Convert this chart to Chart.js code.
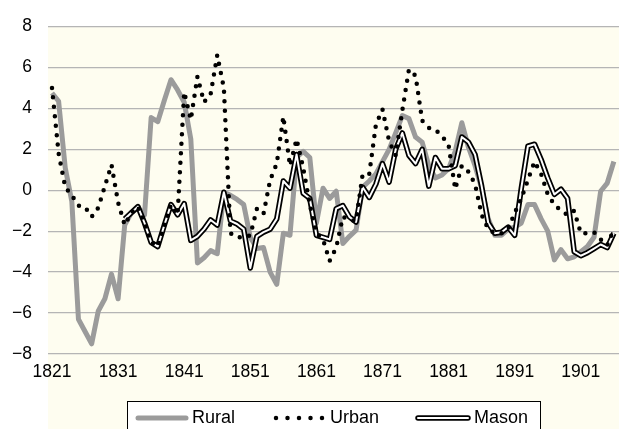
<!DOCTYPE html>
<html><head><meta charset="utf-8">
<script src="https://cdn.jsdelivr.net/npm/chart.js@4.4.1/dist/chart.umd.min.js"></script>
<style>html,body{margin:0;padding:0;background:#fff;}canvas{display:block;}</style>
</head><body>
<canvas id="c" width="619" height="429"></canvas>
<script>
const years = [1821,1822,1823,1824,1825,1826,1827,1828,1829,1830,
 1831,1832,1833,1834,1835,1836,1837,1838,1839,1840,
 1841,1842,1843,1844,1845,1846,1847,1848,1849,1850,
 1851,1852,1853,1854,1855,1856,1857,1858,1859,1860,
 1861,1862,1863,1864,1865,1866,1867,1868,1869,1870,
 1871,1872,1873,1874,1875,1876,1877,1878,1879,1880,
 1881,1882,1883,1884,1885,1886,1887,1888,1889,1890,
 1891,1892,1893,1894,1895,1896,1897,1898,1899,1900,
 1901,1902,1903,1904,1905,1906];
const rural = [4.75,4.35,1.1,-0.55,-6.3,-6.9,-7.5,-5.9,-5.3,-4.1,
 -5.3,-1.7,-1.1,-0.85,-1.2,3.55,3.35,4.4,5.4,4.9,
 4.3,2.5,-3.55,-3.3,-2.95,-3.1,-0.1,-0.25,-0.45,-0.7,
 -2.3,-2.85,-2.8,-4.0,-4.6,-2.1,-2.2,1.6,1.9,1.6,
 -1.6,0.1,-0.4,-0.05,-2.6,-2.25,-1.95,0.15,0.45,0.8,
 1.4,2.0,2.8,3.65,3.5,2.6,2.35,1.2,0.6,0.75,
 1.05,1.9,3.3,2.1,1.2,0.1,-1.4,-2.2,-2.2,-1.9,
 -1.8,-1.6,-0.7,-0.7,-1.4,-2.0,-3.4,-2.9,-3.35,-3.25,
 -3.0,-2.75,-2.3,-0.05,0.35,1.4];
const urban = [5.0,1.8,0.15,-0.25,-0.75,-0.82,-1.3,-0.85,0.2,1.25,
 -0.6,-1.7,-1.1,-0.8,-1.6,-2.55,-2.75,-1.7,-0.7,-1.2,
 4.8,3.45,5.55,4.3,4.7,6.6,5.0,-2.1,-2.3,-2.3,
 -2.2,-0.9,-1.15,0.5,1.3,3.6,1.2,2.5,1.1,-0.7,
 -2.1,-2.4,-3.45,-2.8,-1.3,-1.45,-1.5,0.8,0.8,3.2,
 3.95,2.4,1.7,3.9,5.9,5.6,3.4,3.05,2.95,2.65,
 2.2,0.05,1.2,0.9,0.3,-1.2,-1.9,-2.1,-2.1,-1.9,
 -1.1,-0.4,0.5,1.4,0.8,-0.2,-0.7,-1.0,-1.2,-1.0,
 -2.1,-2.1,-2.05,-2.4,-2.7,-1.9];
const mason = [null,null,null,null,null,null,null,null,null,null,
 null,-1.4,-1.1,-0.8,-1.6,-2.55,-2.75,-1.7,-0.7,-1.2,
 -0.65,-2.45,-2.25,-1.9,-1.45,-1.7,-0.1,-1.5,-1.65,-1.9,
 -3.8,-2.25,-2.05,-1.9,-1.4,0.45,0.1,1.75,-0.15,-0.4,
 -2.2,-2.3,-2.4,-0.9,-0.75,-1.3,-1.55,0.15,-0.35,0.3,
 1.3,0.4,2.0,2.8,1.7,1.3,2.0,0.2,1.6,1.05,
 1.05,1.2,2.6,2.35,1.75,0.2,-1.6,-2.1,-2.05,-1.8,
 -2.2,0.1,2.15,2.25,1.5,0.6,-0.2,0.05,-0.4,-3.0,
 -3.2,-3.05,-2.85,-2.65,-2.8,-2.1];
const xTickYears = [1821,1831,1841,1851,1861,1871,1881,1891,1901];
const yTickValues = [-8,-6,-4,-2,0,2,4,6,8];
const seriesNames = ['Rural','Urban','Mason'];

const CREAM = '#fefdf0';
const RURAL_COLOR = '#9b9b9b';
const FONT = '"Liberation Sans", Arial, sans-serif';

const pts = arr => years.map((y,i)=>({x:y, y:arr[i]}));

const decor = {
  id:'decor',
  beforeDraw(chart){
    const {ctx, chartArea:a} = chart;
    ctx.save();
    ctx.fillStyle='#fff'; ctx.fillRect(0,0,chart.width,chart.height);
    ctx.fillStyle=CREAM; ctx.fillRect(a.left, a.top, chart.width-a.left, chart.height-a.top);
    ctx.restore();
  },
  afterDraw(chart){
    const ctx = chart.ctx;
    ctx.save();
    ctx.fillStyle='#fff'; ctx.fillRect(127,401,414,40);
    ctx.strokeStyle='#000'; ctx.lineWidth=1; ctx.strokeRect(127.5,401.5,413,40);
    const ly=418;
    ctx.font='18px '+FONT; ctx.fillStyle='#000'; ctx.textBaseline='middle'; ctx.textAlign='left';
    // Rural
    ctx.lineCap='round';
    ctx.strokeStyle=RURAL_COLOR; ctx.lineWidth=5;
    ctx.beginPath(); ctx.moveTo(138,ly); ctx.lineTo(186,ly); ctx.stroke();
    ctx.fillText(seriesNames[0],192,ly);
    // Urban
    ctx.setLineDash([0,11.5]); ctx.strokeStyle='#000'; ctx.lineWidth=4.5;
    ctx.beginPath(); ctx.moveTo(276,ly); ctx.lineTo(325,ly); ctx.stroke();
    ctx.setLineDash([]);
    ctx.fillText(seriesNames[1],330,ly);
    // Mason
    ctx.strokeStyle='#000'; ctx.lineWidth=5.5;
    ctx.beginPath(); ctx.moveTo(418,ly); ctx.lineTo(468,ly); ctx.stroke();
    ctx.strokeStyle='#fff'; ctx.lineWidth=2;
    ctx.beginPath(); ctx.moveTo(418,ly); ctx.lineTo(468,ly); ctx.stroke();
    ctx.fillText(seriesNames[2],474,ly);
    ctx.restore();
  }
};

const pxPerYear = 6.61;
const xMin = 1821 - 4/pxPerYear;
const xMax = xMin + 571/pxPerYear;

new Chart(document.getElementById('c'), {
  type:'line',
  data:{datasets:[
    {label:seriesNames[1], data:pts(urban), borderColor:'#000', borderWidth:4.5, borderDash:[0,9.5], borderCapStyle:'round', borderJoinStyle:'round', pointRadius:0, tension:0, order:0},
    {label:seriesNames[2]+' inner', data:pts(mason), borderColor:'#fff', borderWidth:2, borderJoinStyle:'round', pointRadius:0, tension:0, order:1},
    {label:seriesNames[2], data:pts(mason), borderColor:'#000', borderWidth:5.5, borderJoinStyle:'round', pointRadius:0, tension:0, order:2},
    {label:seriesNames[0], data:pts(rural), borderColor:RURAL_COLOR, borderWidth:5, borderJoinStyle:'round', pointRadius:0, tension:0, order:3}
  ]},
  options:{
    responsive:false, animation:false, devicePixelRatio:1,
    layout:{padding:{top:22.7,left:0,right:0,bottom:0}},
    plugins:{legend:{display:false}, tooltip:{enabled:false}},
    scales:{
      x:{type:'linear', min:xMin, max:xMax,
        afterBuildTicks(s){ s.ticks = xTickYears.map(v=>({value:v})); },
        afterFit(s){ s.height = 429-354; },
        grid:{display:false, drawTicks:false}, border:{display:false},
        ticks:{autoSkip:false, maxRotation:0, padding:8, color:'#000', font:{family:FONT, size:17.5}, callback:v=>String(v)}
      },
      y:{type:'linear', min:-8, max:8,
        afterBuildTicks(s){ s.ticks = yTickValues.map(v=>({value:v})); },
        afterFit(s){ s.width = 48; },
        grid:{color:'#b5b5b5', lineWidth:1.3, drawTicks:false}, border:{display:false},
        ticks:{padding:16, color:'#000', font:{family:FONT, size:17.5}, callback:v=> v<0 ? '\u2212'+Math.abs(v) : String(v)}
      }
    }
  },
  plugins:[decor]
});
</script>
</body></html>
